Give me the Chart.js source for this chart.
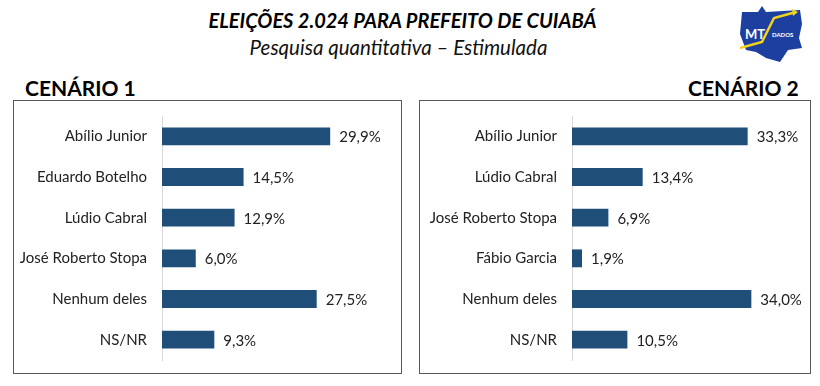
<!DOCTYPE html>
<html>
<head>
<meta charset="utf-8">
<script src="https://cdn.jsdelivr.net/npm/chart.js@4.4.1/dist/chart.umd.min.js"></script>
<style>
  body { margin: 0; width: 820px; height: 386px; background: #fff; position: relative; overflow: hidden; font-family: Lato, sans-serif; color: #000; }
  #title { position: absolute; top: 8px; left: 0; width: 805px; text-align: center; font-weight: bold; font-style: italic; font-size: 20px; }
  #subtitle { position: absolute; top: 35px; left: 0; width: 797px; text-align: center; font-style: italic; font-size: 20.5px; color: #111; }
  .scen { position: absolute; top: 75px; font-weight: bold; font-size: 21px; }
  .box { position: absolute; top: 100px; height: 272px; border: 1px solid #595959; }
  .box canvas { display: block; }
  #logo { position: absolute; left: 736px; top: 4px; }
</style>
</head>
<body>
<div id="title">ELEIÇÕES 2.024 PARA PREFEITO DE CUIABÁ</div>
<div id="subtitle">Pesquisa quantitativa – Estimulada</div>
<svg id="logo" width="70" height="60" viewBox="0 0 70 60">
  <path d="M6 8 L22 8 L26 2 L30 8 L64 6 L66 20 L63 34 L66 44 L52 46 L44 58 L30 54 L20 48 L10 46 L4 30 Z" fill="#1d3fa0"/>
  <path d="M4 44 L26 38 L38 14 L60 8" stroke="#f2d21b" stroke-width="2.5" fill="none"/>
  <path d="M56 5 L62 8 L57 12 Z" fill="#f2d21b"/>
  <text x="9" y="35" font-family="Lato" font-weight="bold" font-size="13" fill="#fff">MT</text>
  <text x="36" y="33" font-family="Lato" font-weight="bold" font-size="6" fill="#fff">DADOS</text>
</svg>
<div class="scen" style="left:25px">CENÁRIO 1</div>
<div class="scen" style="left:688px">CENÁRIO 2</div>
<div class="box" style="left:13px; width:387px"><canvas id="c1" width="387" height="272"></canvas></div>
<div class="box" style="left:419px; width:390px"><canvas id="c2" width="390" height="272"></canvas></div>
<script>
// Cenário 1
const labels1 = ['Abílio Junior', 'Eduardo Botelho', 'Lúdio Cabral', 'José Roberto Stopa', 'Nenhum deles', 'NS/NR'];
const values1 = [29.9, 14.5, 12.9, 6.0, 27.5, 9.3];

// Cenário 2
const labels2 = ['Abílio Junior', 'Lúdio Cabral', 'José Roberto Stopa', 'Fábio Garcia', 'Nenhum deles', 'NS/NR'];
const values2 = [33.3, 13.4, 6.9, 1.9, 34.0, 10.5];

const barColor = '#1f4e79';

// draws the "29,9%" labels after each bar
const valueLabels = {
    id: 'valueLabels',
    afterDatasetsDraw(chart) {
        const ctx = chart.ctx;
        const meta = chart.getDatasetMeta(0);
        ctx.save();
        ctx.font = '15px Lato';
        ctx.fillStyle = '#222';
        ctx.textAlign = 'left';
        ctx.textBaseline = 'middle';
        meta.data.forEach((bar, i) => {
            const v = chart.data.datasets[0].data[i];
            ctx.fillText(v.toFixed(1).replace('.', ',') + '%', bar.x + 9, bar.y + 1);
        });
        ctx.restore();
    }
};

function makeChart(id, labels, values, axisWidth, padRight) {
    return new Chart(document.getElementById(id), {
        type: 'bar',
        data: {
            labels: labels,
            datasets: [{
                data: values,
                backgroundColor: barColor,
                borderWidth: 0,
                barPercentage: 0.44,
                categoryPercentage: 1
            }]
        },
        options: {
            indexAxis: 'y',
            responsive: false,
            animation: false,
            layout: { padding: { top: 15, bottom: 13, right: padRight, left: 0 } },
            plugins: { legend: { display: false }, tooltip: { enabled: false } },
            scales: {
                x: { display: false, min: 0, max: 40 },
                y: {
                    afterFit: (scale) => {
                        scale.width = axisWidth;
                        scale.paddingTop = 0;
                        scale.paddingBottom = 0;
                    },
                    grid: { display: false, drawTicks: false },
                    border: { display: true, color: '#d9d9d9', width: 1 },
                    ticks: { color: '#222', padding: 15, font: { family: 'Lato', size: 15 } }
                }
            }
        },
        plugins: [valueLabels]
    });
}

makeChart('c1', labels1, values1, 148, 14);
makeChart('c2', labels2, values2, 152, 27);
</script>
</body>
</html>
